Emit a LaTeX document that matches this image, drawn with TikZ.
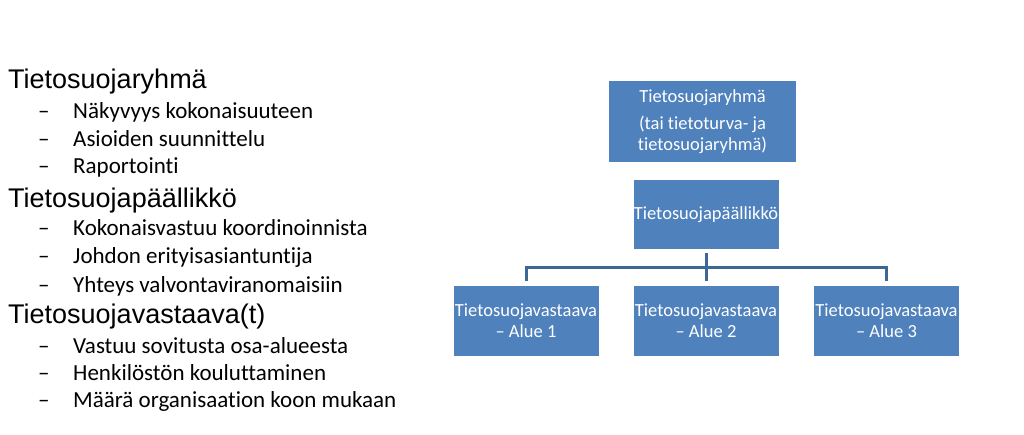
\documentclass[tikz,border=0pt]{standalone}
\usepackage{fontspec}
\setmainfont[Ligatures={NoCommon}]{Carlito}
\newfontfamily\headfont{Liberation Sans}
\usetikzlibrary{positioning}

\definecolor{boxblue}{HTML}{4F81BD}
\definecolor{linkblue}{HTML}{3C6896}

\begin{document}
\begin{tikzpicture}[x=1pt,y=-1pt,
    head/.style={anchor=base west,inner sep=0pt,font=\headfont\fontsize{27}{27}\selectfont},
    item/.style={anchor=base west,inner sep=0pt,font=\fontsize{23}{23}\selectfont},
    unit/.style={fill=boxblue,text=white,inner sep=0pt,align=center,
        minimum width=145pt,font=\fontsize{18.5}{21}\selectfont},
    link/.style={draw=linkblue,line width=3pt}]
    \useasboundingbox (0,0) rectangle (1024,434);

    % Roles and tasks
    \node[head] (h1) at (8,88) {Tietosuojaryhmä};
    \node[item] (i11) at (38,118) {\makebox[35pt][l]{–}Näkyvyys kokonaisuuteen};
    \node[item] (i12) at (38,146) {\makebox[35pt][l]{–}Asioiden suunnittelu};
    \node[item] (i13) at (38,173) {\makebox[35pt][l]{–}Raportointi};
    \node[head] (h2) at (8,207) {Tietosuojapäällikkö};
    \node[item] (i21) at (38,235) {\makebox[35pt][l]{–}Kokonaisvastuu koordinoinnista};
    \node[item] (i22) at (38,263) {\makebox[35pt][l]{–}Johdon erityisasiantuntija};
    \node[item] (i23) at (38,292) {\makebox[35pt][l]{–}Yhteys valvontaviranomaisiin};
    \node[head] (h3) at (8,323) {Tietosuojavastaava(t)};
    \node[item] (i31) at (38,353) {\makebox[35pt][l]{–}Vastuu sovitusta osa-alueesta};
    \node[item] (i32) at (38,380) {\makebox[35pt][l]{–}Henkilöstön kouluttaminen};
    \node[item] (i33) at (38,407) {\makebox[35pt][l]{–}Määrä organisaation koon mukaan};

    % Organisation chart
    \node[unit,minimum width=187pt,minimum height=81pt] (group) at (702.5,121.5)
        {Tietosuojaryhmä\\[6pt](tai tietoturva- ja\\tietosuojaryhmä)};
    \node[unit,minimum height=69pt] (head) at (706,214.5) {Tietosuojapäällikkö};
    \node[unit,minimum height=70pt] (alue1) at (526,321) {Tietosuojavastaava\\– Alue 1};
    \node[unit,minimum height=70pt] (alue2) at (706,321) {Tietosuojavastaava\\– Alue 2};
    \node[unit,minimum height=70pt] (alue3) at (886.5,321) {Tietosuojavastaava\\– Alue 3};

    % Connectors
    \draw[link] ([yshift=-4pt]head.south) -- ([yshift=5pt]alue2.north);
    \draw[link] ([yshift=5pt]alue1.north) -- ++(0,-13) -| ([yshift=5pt]alue3.north);
\end{tikzpicture}
\end{document}
